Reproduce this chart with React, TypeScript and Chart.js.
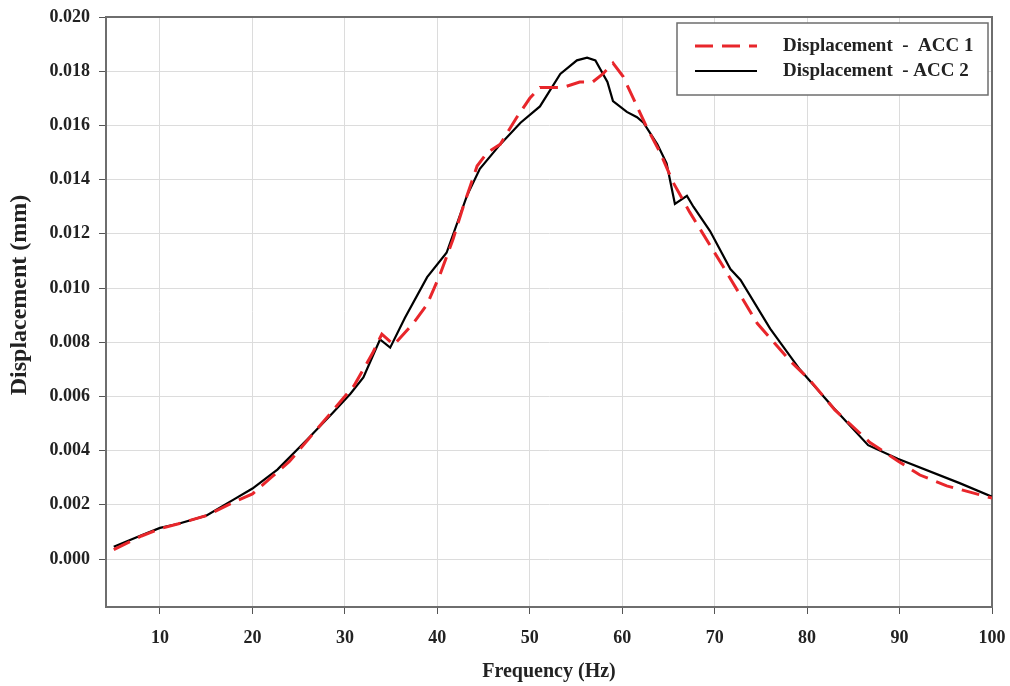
import React, { useEffect, useRef } from "react";
import { Chart, registerables } from "chart.js";

Chart.register(...registerables);

const acc1Freq = [5, 8, 10, 12, 15, 18, 20, 22, 24, 26, 29, 31, 33, 34, 35.3, 37.4, 38.9, 40.3, 41.7, 42.8, 44.3, 45.4, 46.8, 48.6, 50, 51.1, 53.6, 55.4, 56.8, 57.9, 59, 60.1, 61.2, 62.7, 64.1, 65.5, 67.3, 70.9, 74.6, 78.2, 80.3, 83, 86.8, 89.9, 92.2, 95.1, 100];
const acc1Disp = [0.00035, 0.00085, 0.00112, 0.0013, 0.0016, 0.0021, 0.0024, 0.003, 0.0036, 0.0044, 0.0056, 0.0064, 0.0076, 0.0083, 0.0079, 0.0087, 0.0094, 0.0105, 0.0118, 0.013, 0.0145, 0.015, 0.0153, 0.0163, 0.017, 0.0174, 0.0174, 0.0176, 0.0176, 0.0179, 0.0183, 0.0178, 0.017, 0.0159, 0.015, 0.0139, 0.0128, 0.0108, 0.0087, 0.0073, 0.0066, 0.0055, 0.0043, 0.0036, 0.0031, 0.0027, 0.00225];

const acc2Freq = [5, 8, 10, 12, 15, 18, 20, 22.7, 25.9, 28.7, 30.6, 32, 33.8, 34.9, 36.5, 38.9, 41, 43.2, 44.6, 46.8, 49, 51.1, 53.3, 55.1, 56.2, 57.1, 58.4, 59, 60.5, 61.6, 62.3, 63.8, 64.8, 65.7, 67, 67.7, 69.5, 71.7, 72.8, 76, 79.2, 82.8, 86.6, 89.8, 96.5, 100];
const acc2Disp = [0.00045, 0.00088, 0.00115, 0.0013, 0.0016, 0.0022, 0.0026, 0.0033, 0.0044, 0.0054, 0.0061, 0.0067, 0.0081, 0.0078, 0.0089, 0.0104, 0.0113, 0.0134, 0.0144, 0.0153, 0.0161, 0.0167, 0.0179, 0.0184, 0.0185, 0.0184, 0.0176, 0.0169, 0.0165, 0.0163, 0.0161, 0.0153, 0.0146, 0.0131, 0.0134, 0.013, 0.0121, 0.0107, 0.0103, 0.0085, 0.007, 0.0056, 0.0042, 0.0037, 0.0028, 0.0023];

const xTicks = [10, 20, 30, 40, 50, 60, 70, 80, 90, 100];
const yTicks = [0, 0.002, 0.004, 0.006, 0.008, 0.01, 0.012, 0.014, 0.016, 0.018, 0.02];

const seriesLabels = ["Displacement  -  ACC 1", "Displacement  - ACC 2"];
const yTitle = "Displacement (mm)";

const FONT = '"Liberation Serif", "Times New Roman", serif';

const framePlugin = {
  id: "frameAndLegend",
  beforeDatasetsDraw(chart: any) {
    const { ctx, chartArea } = chart;
    const { left, top, right, bottom } = chartArea;
    ctx.save();
    ctx.strokeStyle = "#6e6e6e";
    ctx.lineWidth = 2;
    ctx.beginPath();
    ctx.moveTo(left, top);
    ctx.lineTo(right, top);
    ctx.lineTo(right, bottom);
    ctx.stroke();
    ctx.restore();
  },
  afterDraw(chart: any) {
    const { ctx } = chart;
    // y-axis title
    ctx.save();
    ctx.translate(20, 295);
    ctx.rotate(-Math.PI / 2);
    ctx.fillStyle = "#222";
    ctx.font = `bold 24px ${FONT}`;
    ctx.textAlign = "center";
    ctx.textBaseline = "middle";
    ctx.fillText(yTitle, 0, 0);
    ctx.restore();

    // legend
    const bx = 677, by = 23, bw = 311, bh = 72;
    ctx.save();
    ctx.fillStyle = "#ffffff";
    ctx.fillRect(bx, by, bw, bh);
    ctx.strokeStyle = "#6e6e6e";
    ctx.lineWidth = 1.5;
    ctx.strokeRect(bx, by, bw, bh);
    const ds = chart.data.datasets;
    const rows = [46, 71];
    rows.forEach((yy: number, i: number) => {
      const d = ds[i];
      ctx.beginPath();
      ctx.strokeStyle = d.borderColor;
      ctx.lineWidth = d.borderWidth;
      ctx.setLineDash(d.borderDash || []);
      ctx.moveTo(695, yy);
      ctx.lineTo(757, yy);
      ctx.stroke();
      ctx.setLineDash([]);
      ctx.fillStyle = "#222";
      ctx.font = `bold 19px ${FONT}`;
      ctx.textBaseline = "middle";
      ctx.textAlign = "left";
      ctx.fillText(d.label, 783, yy);
    });
    ctx.restore();
  },
};

export default function App() {
  const ref = useRef<HTMLCanvasElement | null>(null);
  useEffect(() => {
    if (!ref.current) return;
    const chart = new Chart(ref.current, {
      type: "scatter",
      data: {
        datasets: [
          {
            label: seriesLabels[0],
            data: acc1Freq.map((f, i) => ({ x: f, y: acc1Disp[i] })),
            showLine: true,
            borderColor: "#e8262b",
            backgroundColor: "#e8262b",
            borderWidth: 3,
            borderDash: [18, 9],
            pointRadius: 0,
            tension: 0,
          },
          {
            label: seriesLabels[1],
            data: acc2Freq.map((f, i) => ({ x: f, y: acc2Disp[i] })),
            showLine: true,
            borderColor: "#000000",
            backgroundColor: "#000000",
            borderWidth: 2.2,
            pointRadius: 0,
            tension: 0,
          },
        ],
      },
      options: {
        responsive: false,
        animation: false,
        layout: { padding: { left: 0, top: 17, right: 18, bottom: 0 } },
        plugins: {
          legend: { display: false },
          tooltip: { enabled: false },
        },
        scales: {
          x: {
            type: "linear",
            min: 4.16,
            max: 100,
            afterBuildTicks: (scale: any) => {
              scale.ticks = xTicks.map((v) => ({ value: v }));
            },
            afterFit: (scale: any) => {
              scale.height = 79;
              scale.paddingRight = 0;
              scale.paddingLeft = 0;
            },
            grid: { color: "#dcdcdc", lineWidth: 1, tickColor: "#555", tickLength: 7, drawTicks: true },
            border: { color: "#6e6e6e", width: 2 },
            ticks: {
              color: "#222",
              font: { family: FONT, size: 18, weight: "bold" },
              padding: 14,
              maxRotation: 0,
              autoSkip: false,
              callback: (v: any) => String(v),
            },
            title: {
              display: true,
              text: "Frequency (Hz)",
              color: "#222",
              font: { family: FONT, size: 20, weight: "bold" },
              padding: { top: 0, bottom: 2 },
            },
          },
          y: {
            type: "linear",
            min: -0.00177,
            max: 0.02,
            afterBuildTicks: (scale: any) => {
              scale.ticks = yTicks.map((v) => ({ value: v }));
            },
            afterFit: (scale: any) => {
              scale.width = 106;
              scale.paddingTop = 0;
              scale.paddingBottom = 0;
            },
            grid: { color: "#dcdcdc", lineWidth: 1, tickColor: "#555", tickLength: 7, drawTicks: true },
            border: { color: "#6e6e6e", width: 2 },
            ticks: {
              color: "#222",
              font: { family: FONT, size: 18, weight: "bold" },
              padding: 9,
              autoSkip: false,
              callback: (v: any) => Number(v).toFixed(3),
            },
            title: { display: false },
          },
        },
      },
      plugins: [framePlugin],
    } as any);
    return () => chart.destroy();
  }, []);
  return (
    <div style={{ position: "absolute", left: 0, top: 0, width: 1010, height: 686, background: "#fff" }}>
      <canvas ref={ref} width={1010} height={686} />
    </div>
  );
}
